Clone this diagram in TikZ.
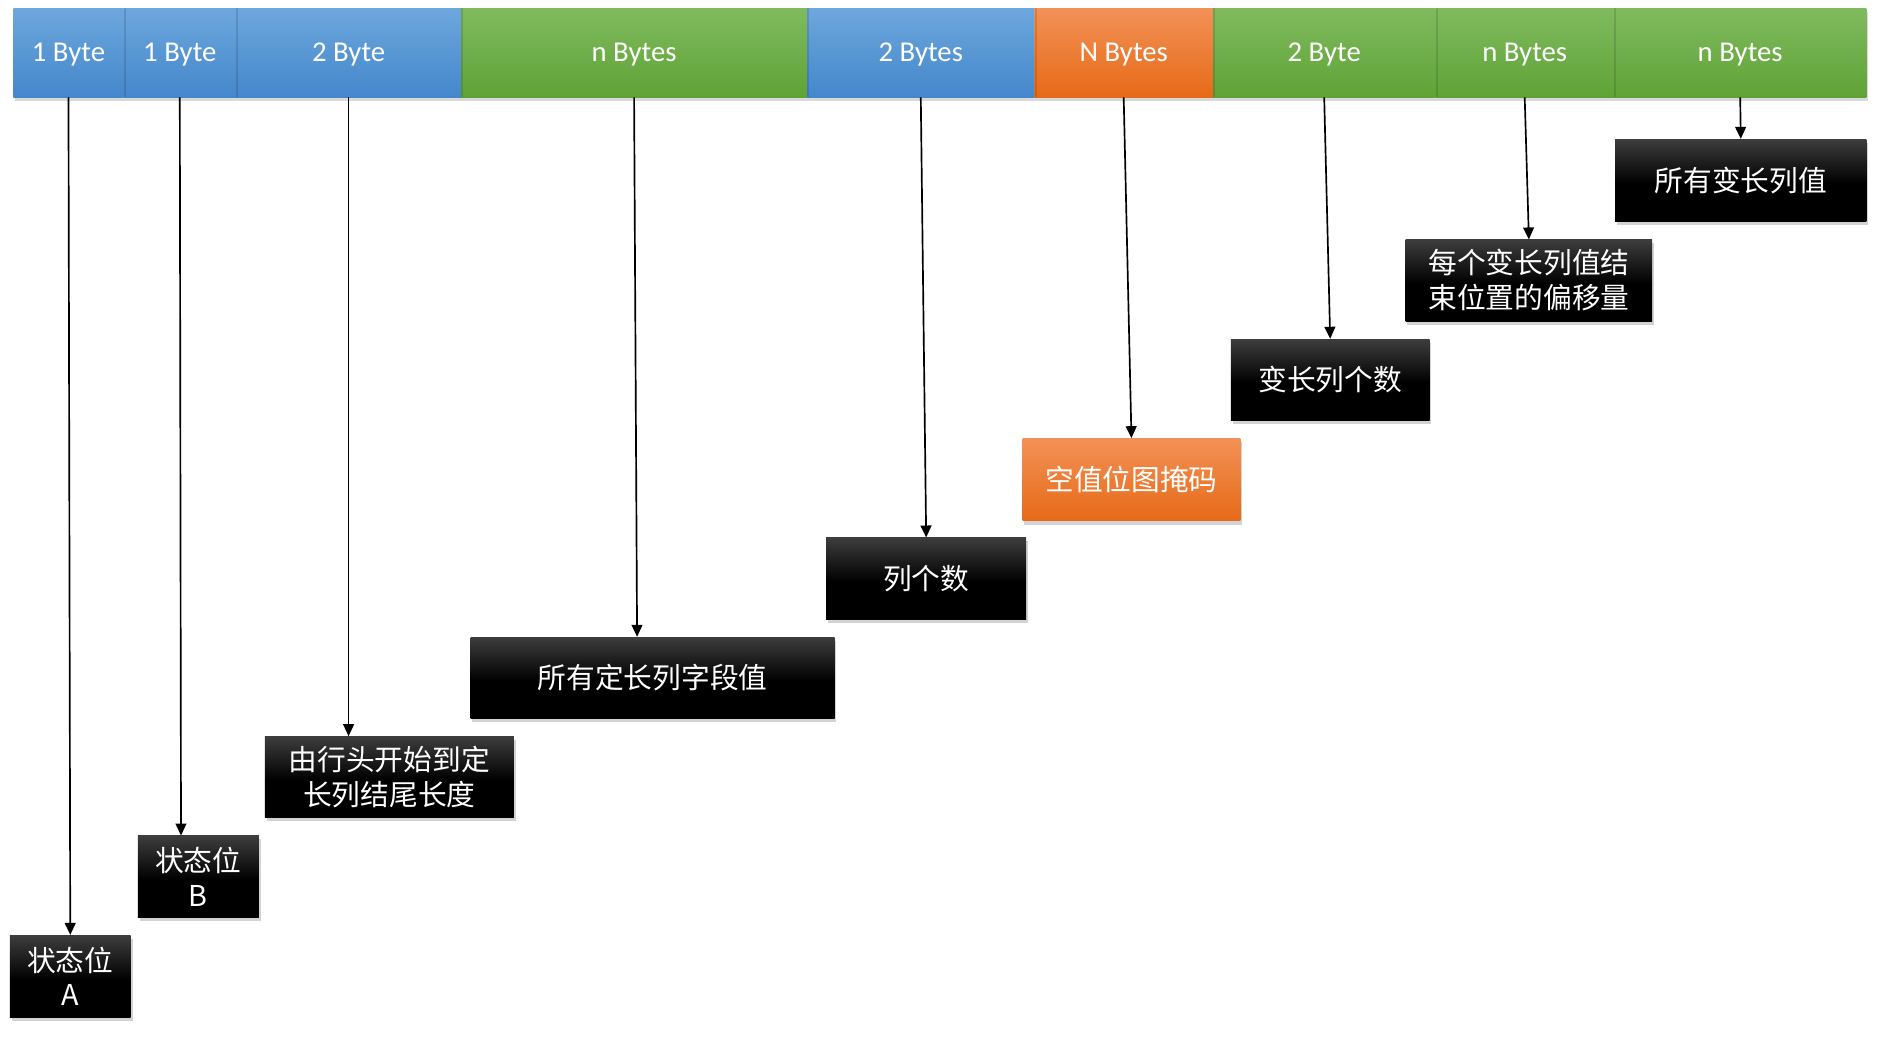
\documentclass[tikz,border=0pt]{standalone}
\usepackage{fontspec}
\setmainfont{Carlito}
\newfontfamily\cjk{Noto Sans CJK SC}
\usetikzlibrary{shadows,arrows.meta,calc}
\definecolor{bluetop}{HTML}{6DA7DD}
\definecolor{bluebot}{HTML}{4487CB}
\definecolor{greentop}{HTML}{80BA5E}
\definecolor{greenbot}{HTML}{5FA336}
\definecolor{orangetop}{HTML}{F39157}
\definecolor{orangebot}{HTML}{E66A17}
\pgfdeclareverticalshading{blkshade}{100bp}{color(0bp)=(black); color(25bp)=(black); color(48bp)=(black); color(75bp)=(black!76); color(100bp)=(black!76)}
\tikzset{
  seg/.style={minimum height=74, inner sep=0, text=white, font=\fontsize{24}{28}\selectfont,
    text height=15pt, text depth=0pt,
    anchor=north west, drop shadow={shadow xshift=1.5pt, shadow yshift=-3pt, opacity=0.3}},
  blueseg/.style={top color=bluetop, bottom color=bluebot},
  greenseg/.style={top color=greentop, bottom color=greenbot},
  orangeseg/.style={top color=orangetop, bottom color=orangebot},
  box/.style={inner sep=0, text=white, font=\cjk\fontsize{24}{29}\selectfont, align=center,
    anchor=north west, shading=blkshade, drop shadow={shadow xshift=1.5pt, shadow yshift=-3pt, opacity=0.35}},
  orangebox/.style={box, shading=axis, top color=orangetop, bottom color=orangebot},
  arr/.style={line width=1.4pt, -{Triangle[length=10pt,width=9pt]}},
  sep/.style={line width=1.6pt, black, opacity=0.12}
}
\begin{document}
\begin{tikzpicture}[x=1pt,y=-1pt]
\useasboundingbox (0,0) rectangle (1568,870);
% top bar
\node[seg, blueseg, minimum width=92] (s1) at (11,7) {1 Byte};
\node[seg, blueseg, minimum width=94] (s2) at (103,7) {1 Byte};
\node[seg, blueseg, minimum width=188] (s3) at (197,7) {2 Byte};
\node[seg, greenseg, minimum width=289] (s4) at (385,7) {n Bytes};
\node[seg, blueseg, minimum width=190] (s5) at (674,7) {2 Bytes};
\node[seg, orangeseg, minimum width=149] (s6) at (864,7) {N Bytes};
\node[seg, greenseg, minimum width=186] (s7) at (1013,7) {2 Byte};
\node[seg, greenseg, minimum width=149] (s8) at (1199,7) {n Bytes};
\node[seg, greenseg, minimum width=211] (s9) at (1348,7) {n Bytes};
\foreach \a/\b in {s1/s2,s2/s3,s3/s4,s4/s5,s5/s6,s6/s7,s7/s8,s8/s9}
  \draw[sep] ([xshift=0.8pt]\a.north east) -- ([xshift=0.8pt]\a.south east);
% boxes
\node[box, minimum width=210, minimum height=69] (b9) at (1349,116) {所有变长列值};
\node[box, minimum width=206, minimum height=68] (b8) at (1174,200) {每个变长列值结\\束位置的偏移量};
\node[box, minimum width=166, minimum height=68] (b7) at (1028,283) {变长列个数};
\node[orangebox, minimum width=182, minimum height=69] (b6) at (854,366) {空值位图掩码};
\node[box, minimum width=167, minimum height=68] (b5) at (690,449) {列个数};
\node[box, minimum width=304, minimum height=68] (b4) at (393,532) {所有定长列字段值};
\node[box, minimum width=208, minimum height=68] (b3) at (221,615) {由行头开始到定\\长列结尾长度};
\node[box, minimum width=101, minimum height=68] (b2) at (115,698) {状态位\\B};
\node[box, minimum width=101, minimum height=69] (b1) at (8,781) {状态位\\A};
% arrows
\draw[arr] (s1.south) -- (b1.north);
\draw[arr] (s2.south) -- ([xshift=-14.5pt]b2.north);
\draw[arr] (s3.south) -- ([xshift=-34pt]b3.north);
\draw[arr] (s4.south) -- ([xshift=-13pt]b4.north);
\draw[arr] (s5.south) -- (b5.north);
\draw[arr] (s6.south) -- (b6.north);
\draw[arr] (s7.south) -- (b7.north);
\draw[arr] (s8.south) -- (b8.north);
\draw[arr] (s9.south) -- (b9.north);
\end{tikzpicture}
\end{document}
